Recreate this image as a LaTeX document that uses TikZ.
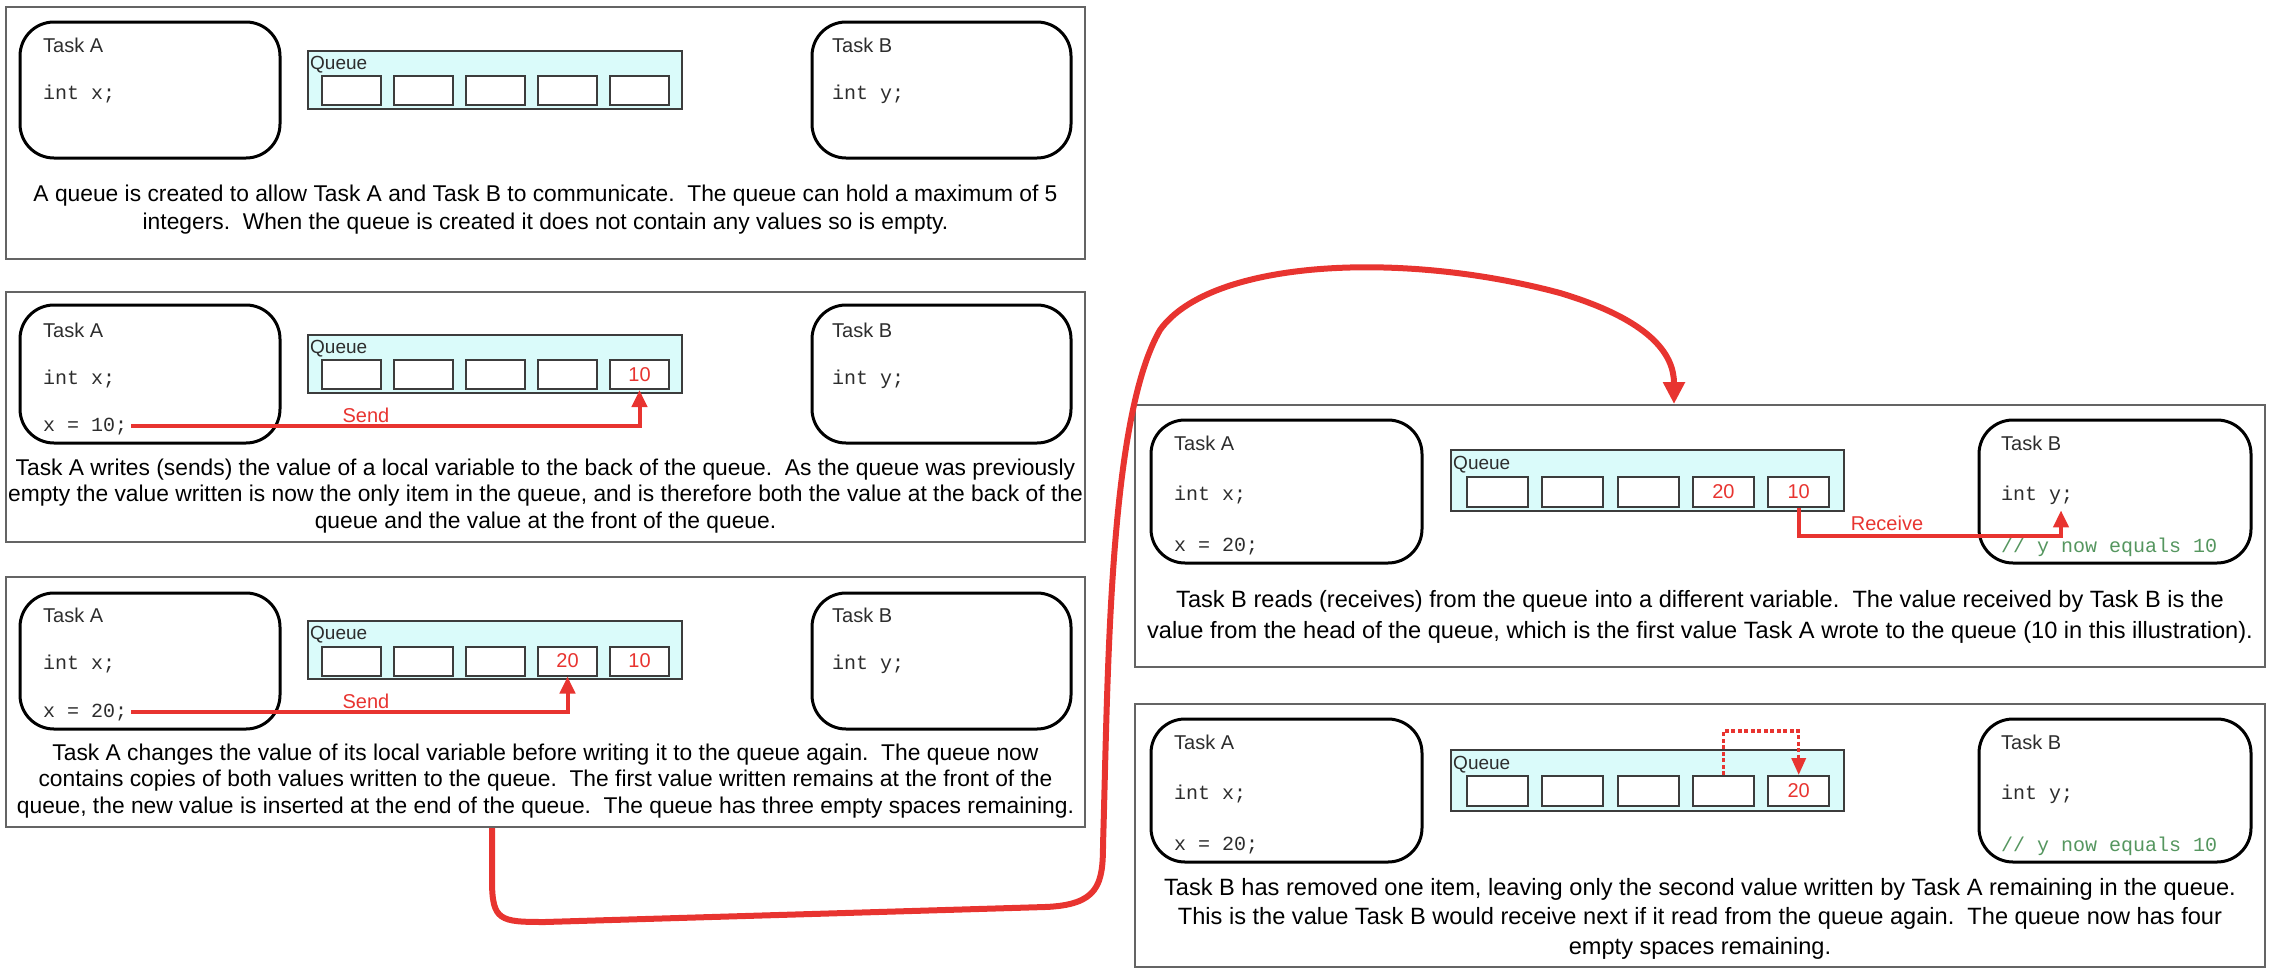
\documentclass[tikz,border=0pt]{standalone}
\usepackage{fontspec}
\setmainfont{Liberation Sans}
\setmonofont{Liberation Mono}
\usetikzlibrary{arrows.meta}

\definecolor{qred}{RGB}{232,52,48}
\definecolor{qcyan}{RGB}{218,251,250}
\definecolor{qgray}{RGB}{60,60,60}
\definecolor{panelgray}{RGB}{100,100,100}
\definecolor{textgray}{RGB}{45,45,45}
\definecolor{codegreen}{RGB}{85,150,95}

\tikzstyle{panel} = [rectangle, draw=panelgray, line width=2pt, inner sep=0pt, minimum width=1079pt, minimum height=250pt]
\tikzstyle{task_box} = [rectangle, rounded corners=34pt, draw=black, line width=3pt, inner sep=0pt, minimum width=260pt, minimum height=136pt]
\tikzstyle{queue_box} = [rectangle, draw=qgray, fill=qcyan, line width=2pt, inner sep=0pt, minimum width=374pt, minimum height=58pt]
\tikzstyle{cell} = [rectangle, draw=qgray, fill=white, line width=2pt, inner sep=0pt, minimum width=59pt, minimum height=29pt, text=qred, font=\fontsize{20}{24}\selectfont]
\tikzstyle{task_label} = [anchor=base west, inner sep=0pt, text=textgray, font=\fontsize{20}{24}\selectfont]
\tikzstyle{queue_label} = [anchor=base west, inner sep=0pt, text=textgray, font=\fontsize{19}{23}\selectfont]
\tikzstyle{code_text} = [anchor=base west, inner sep=0pt, text=textgray, font=\ttfamily\fontsize{20}{24}\selectfont]
\tikzstyle{code_comment} = [code_text, text=codegreen]
\tikzstyle{caption_text} = [anchor=north, align=center, inner sep=0pt, text=black]
\tikzstyle{arrow_label} = [anchor=base, inner sep=0pt, text=qred, font=\fontsize{20}{24}\selectfont]
\tikzstyle{arrow} = [line width=4pt, draw=qred, -{Triangle[length=17pt, width=15pt]}]
\tikzstyle{move_arrow} = [line width=3.5pt, draw=qred, dash pattern=on 4pt off 2.5pt, -{Triangle[length=17pt, width=14pt]}]
\tikzstyle{flow_arrow} = [line width=6pt, draw=qred, -{Triangle[length=22pt, width=21pt]}]

\begin{document}
\begin{tikzpicture}[x=1pt, y=-1pt]
    \useasboundingbox (0,0) rectangle (2272,972);

    % empty queue
    \begin{scope}[shift={(0,7)}]
        \node (pa) [panel, minimum height=252pt] at (545.5,126) {};
        \node (taa) [task_box] at (150,83) {};
        \node (tba) [task_box, minimum width=259pt] at (941.5,83) {};
        \node (laa) [task_label] at (43,45) {Task A};
        \node (xa) [code_text] at (43,92) {int x;};
        \node (lba) [task_label] at (832,45) {Task B};
        \node (ya) [code_text] at (832,92) {int y;};
        \node (qa) [queue_box] at (495,73) {};
        \node (qla) [queue_label] at (310,62) {Queue};
        \foreach \i in {1,...,5}
            \node (qa\i) [cell] at (279.5+72*\i,83.5) {};
        \node (ca) [caption_text, font=\fontsize{22.8}{28}\selectfont] at (545.5,177.4) {A queue is created to allow Task A and Task B to communicate.\ \ The queue can hold a maximum of 5\\integers.\ \ When the queue is created it does not contain any values so is empty.};
    \end{scope}

    % first send
    \begin{scope}[shift={(0,292)}]
        \node (pb) [panel] at (545.5,125) {};
        \node (tab) [task_box, minimum height=138pt] at (150,82) {};
        \node (tbb) [task_box, minimum width=259pt, minimum height=138pt] at (941.5,82) {};
        \node (lab) [task_label] at (43,45) {Task A};
        \node (xb) [code_text] at (43,92) {int x;};
        \node (vb) [code_text] at (43,139) {x = 10;};
        \node (lbb) [task_label] at (832,45) {Task B};
        \node (yb) [code_text] at (832,92) {int y;};
        \node (qb) [queue_box] at (495,72) {};
        \node (qlb) [queue_label] at (310,61) {Queue};
        \foreach \i/\v in {1/{},2/{},3/{},4/{},5/10}
            \node (qb\i) [cell] at (279.5+72*\i,82.5) {\v};
        \draw [arrow] ([xshift=4pt]vb.east) -| (qb5.south);
        \node (sb) [arrow_label] at (366,130) {Send};
        \node (cb) [caption_text, font=\fontsize{22.8}{26.5}\selectfont] at (545.5,166.4) {Task A writes (sends) the value of a local variable to the back of the queue.\ \ As the queue was previously\\empty the value written is now the only item in the queue, and is therefore both the value at the back of the\\queue and the value at the front of the queue.};
    \end{scope}

    % second send
    \begin{scope}[shift={(0,577)}]
        \node (pc) [panel] at (545.5,125) {};
        \node (tac) [task_box] at (150,84) {};
        \node (tbc) [task_box, minimum width=259pt] at (941.5,84) {};
        \node (lac) [task_label] at (43,45) {Task A};
        \node (xc) [code_text] at (43,92) {int x;};
        \node (vc) [code_text] at (43,140) {x = 20;};
        \node (lbc) [task_label] at (832,45) {Task B};
        \node (yc) [code_text] at (832,92) {int y;};
        \node (qc) [queue_box] at (495,73) {};
        \node (qlc) [queue_label] at (310,62) {Queue};
        \foreach \i/\v in {1/{},2/{},3/{},4/20,5/10}
            \node (qc\i) [cell] at (279.5+72*\i,84) {\v};
        \draw [arrow] ([xshift=4pt]vc.east) -| (qc4.south);
        \node (sc) [arrow_label] at (366,131) {Send};
        \node (cc) [caption_text, font=\fontsize{22.8}{26.5}\selectfont] at (545.5,166.4) {Task A changes the value of its local variable before writing it to the queue again.\ \ The queue now\\contains copies of both values written to the queue.\ \ The first value written remains at the front of the\\queue, the new value is inserted at the end of the queue.\ \ The queue has three empty spaces remaining.};
    \end{scope}

    % receive
    \begin{scope}[shift={(0,405)}]
        \node (pd) [panel, minimum width=1130pt, minimum height=262pt] at (1700,131) {};
        \node (tad) [task_box, minimum width=271pt, minimum height=143pt] at (1286.5,86.5) {};
        \node (tbd) [task_box, minimum width=272pt, minimum height=143pt] at (2115,86.5) {};
        \node (lad) [task_label] at (1174,45) {Task A};
        \node (xd) [code_text] at (1174,95) {int x;};
        \node (vd) [code_text] at (1174,146) {x = 20;};
        \node (lbd) [task_label] at (2001,45) {Task B};
        \node (yd) [code_text] at (2001,95) {int y;};
        \node (md) [code_comment] at (2001,147) {// y now equals 10};
        \node (qd) [queue_box, minimum width=393pt, minimum height=61pt] at (1647.5,75.5) {};
        \node (qld) [queue_label] at (1453,64) {Queue};
        \foreach \i/\v in {1/{},2/{},3/{},4/20,5/10}
            \node (qd\i) [cell, minimum width=61pt, minimum height=30pt] at (1422.2+75.3*\i,87) {\v};
        \draw [arrow] (qd5.south) -- ++(0,28) -| ([xshift=60pt, yshift=-6pt]yd.south west);
        \node (rd) [arrow_label] at (1887,125) {Receive};
        \node (cd) [caption_text, font=\fontsize{23.6}{31}\selectfont] at (1700,184.8) {Task B reads (receives) from the queue into a different variable.\ \ The value received by Task B is the\\value from the head of the queue, which is the first value Task A wrote to the queue (10 in this illustration).};
    \end{scope}

    % after the receive
    \begin{scope}[shift={(0,704)}]
        \node (pe) [panel, minimum width=1130pt, minimum height=263pt] at (1700,131.5) {};
        \node (tae) [task_box, minimum width=271pt, minimum height=143pt] at (1286.5,86.5) {};
        \node (tbe) [task_box, minimum width=272pt, minimum height=143pt] at (2115,86.5) {};
        \node (lae) [task_label] at (1174,45) {Task A};
        \node (xe) [code_text] at (1174,95) {int x;};
        \node (ve) [code_text] at (1174,146) {x = 20;};
        \node (lbe) [task_label] at (2001,45) {Task B};
        \node (ye) [code_text] at (2001,95) {int y;};
        \node (me) [code_comment] at (2001,147) {// y now equals 10};
        \node (qe) [queue_box, minimum width=393pt, minimum height=61pt] at (1647.5,76.5) {};
        \node (qle) [queue_label] at (1453,65) {Queue};
        \foreach \i/\v in {1/{},2/{},3/{},4/{},5/20}
            \node (qe\i) [cell, minimum width=61pt, minimum height=30pt] at (1422.2+75.3*\i,87) {\v};
        \draw [move_arrow] (qe4.north) -- ++(0,-44) -| (qe5.north);
        \node (ce) [caption_text, font=\fontsize{23.6}{29.5}\selectfont] at (1700,173.8) {Task B has removed one item, leaving only the second value written by Task A remaining in the queue.\\This is the value Task B would receive next if it read from the queue again.\ \ The queue now has four\\empty spaces remaining.};
    \end{scope}

    % from the left column to the right column
    \coordinate (flow_end) at ([xshift=-26pt]pd.north);
    \draw [flow_arrow] ([xshift=-53.5pt]pc.south) -- ++(0,52)
        .. controls (492,921) and (500,922) .. (545,922)
        -- (1045,907)
        .. controls (1098,905) and (1103,885) .. (1103,845)
        .. controls (1108,680) and (1108,420) .. (1160,330)
        .. controls (1210,260) and (1400,250) .. (1560,293)
        .. controls (1650,320) and ([yshift=50pt]flow_end) .. (flow_end);
\end{tikzpicture}
\end{document}
